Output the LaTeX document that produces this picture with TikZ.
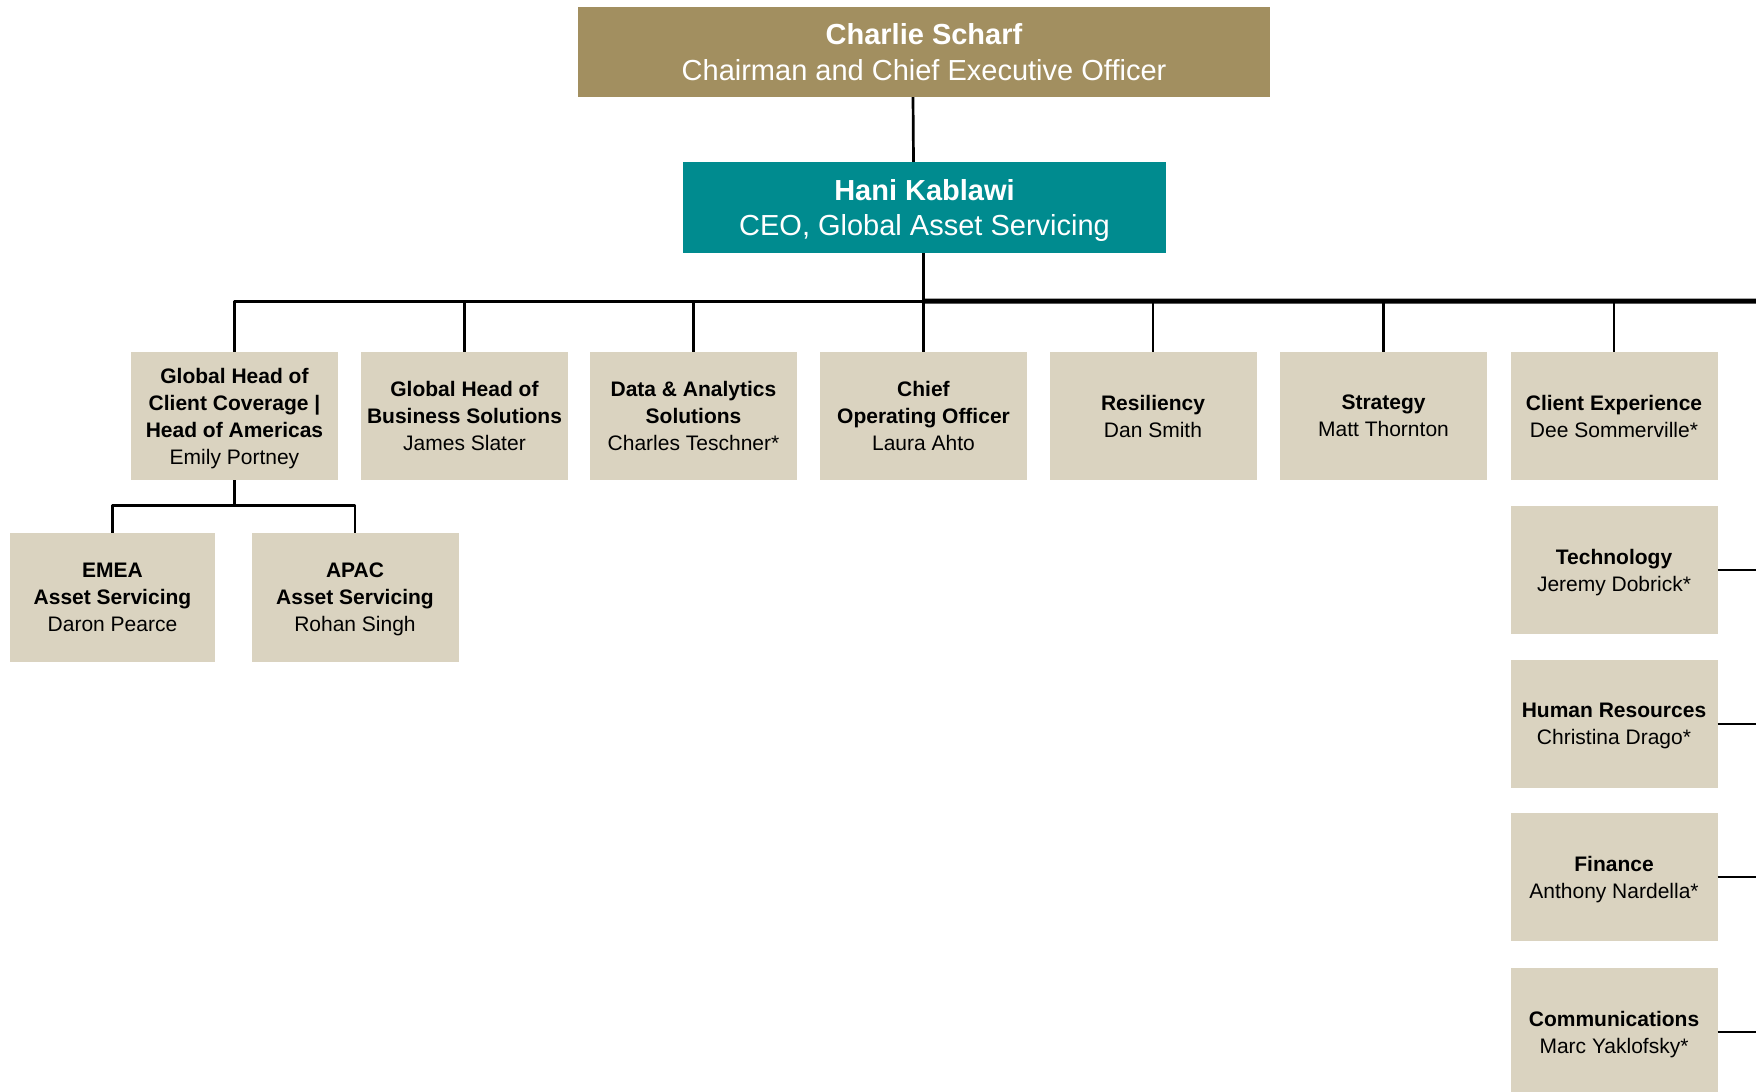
\documentclass[tikz,border=0pt]{standalone}
\usepackage{fontspec}
\setmainfont{Liberation Sans}
\definecolor{chairgold}{RGB}{162,143,96}
\definecolor{gasteal}{RGB}{0,139,143}
\definecolor{unitbeige}{RGB}{218,211,192}
\begin{document}
\begin{tikzpicture}[x=1pt,y=-1pt,line join=round,
	topbox/.style={inner sep=0,text depth=0,text=white,align=center,font=\fontsize{29}{35.5}\selectfont},
	unitbox/.style={fill=unitbeige,inner sep=0,text depth=0,minimum width=207,minimum height=128,align=center,font=\fontsize{21}{27}\selectfont},
	link/.style={line width=2.7},
	bus/.style={line width=5}]
	\useasboundingbox (0,0) rectangle (1756,1092);
	% top of the chart
	\node[topbox,fill=chairgold,minimum width=692,minimum height=90] (ceo) at (924,52) {\textbf{Charlie Scharf}\\Chairman and Chief Executive Officer};
	\node[topbox,fill=gasteal,minimum width=483,minimum height=91] (gas) at (924.5,207.5) {\textbf{Hani Kablawi}\\CEO, Global Asset Servicing};
	% first row
	\node[unitbox] (emily) at (234.5,416) {\textbf{Global Head of}\\\textbf{Client Coverage |}\\\textbf{Head of Americas}\\Emily Portney};
	\node[unitbox] (james) at (464.5,416) {\textbf{Global Head of}\\\textbf{Business Solutions}\\James Slater};
	\node[unitbox] (charles) at (693.5,416) {\textbf{Data \& Analytics}\\\textbf{Solutions}\\Charles Teschner*};
	\node[unitbox] (laura) at (923.5,416) {\textbf{Chief}\\\textbf{Operating Officer}\\Laura Ahto};
	\node[unitbox] (dan) at (1153,416) {\textbf{Resiliency}\\Dan Smith};
	\node[unitbox] (matt) at (1383.5,416) {\textbf{Strategy}\\Matt Thornton};
	\node[unitbox] (dee) at (1614,416) {\textbf{Client Experience}\\Dee Sommerville*};
	% regions
	\node[unitbox,minimum width=205,minimum height=129] (daron) at (112.5,597.5) {\textbf{EMEA}\\\textbf{Asset Servicing}\\Daron Pearce};
	\node[unitbox,minimum height=129] (rohan) at (355,597.5) {\textbf{APAC}\\\textbf{Asset Servicing}\\Rohan Singh};
	% right column
	\node[unitbox] (jeremy) at (1614,570) {\textbf{Technology}\\Jeremy Dobrick*};
	\node[unitbox] (christina) at (1614,724) {\textbf{Human Resources}\\Christina Drago*};
	\node[unitbox] (anthony) at (1614,877) {\textbf{Finance}\\Anthony Nardella*};
	\node[unitbox] (marc) at (1614,1032) {\textbf{Communications}\\Marc Yaklofsky*};
	\coordinate (edge) at (1756,301);
	% connectors
	\draw[link] ([xshift=-11]ceo.south) -- ([xshift=-11]gas.north);
	\draw[link] ([xshift=-1]gas.south) -- ++(0,48) coordinate (hub);
	\draw[bus] (hub) -- (edge);
	\draw[link] (emily.north) |- (hub);
	\draw[link] (james.north) -- (james.north |- hub);
	\draw[link] (charles.north) -- (charles.north |- hub);
	\draw[link] (laura.north) -- (laura.north |- hub);
	\draw[link] (dan.north) -- (dan.north |- hub);
	\draw[link] (matt.north) -- (matt.north |- hub);
	\draw[link] (dee.north) -- (dee.north |- hub);
	\draw[link] (emily.south) -- ++(0,25) coordinate (sub);
	\draw[link] (daron.north) |- (sub) -| (rohan.north);
	\draw[link] (jeremy.east) -- (jeremy.east -| edge);
	\draw[link] (christina.east) -- (christina.east -| edge);
	\draw[link] (anthony.east) -- (anthony.east -| edge);
	\draw[link] (marc.east) -- (marc.east -| edge);
\end{tikzpicture}
\end{document}
